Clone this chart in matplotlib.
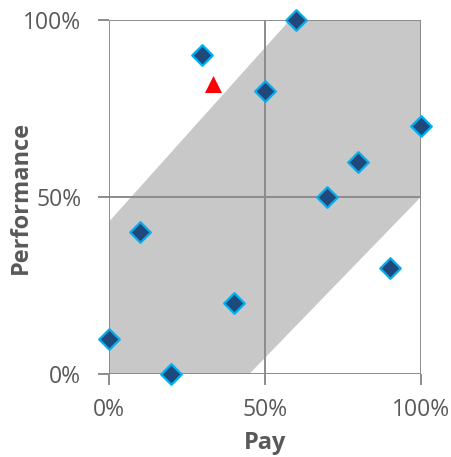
import matplotlib
matplotlib.use("Agg")
import matplotlib.pyplot as plt
from matplotlib.ticker import FuncFormatter

pay = [0.0, 0.1, 0.2, 0.3, 0.4, 0.5, 0.6, 0.7, 0.8, 0.9, 1.0]
performance = [0.1, 0.4, 0.0, 0.9, 0.2, 0.8, 1.0, 0.5, 0.6, 0.3, 0.7]
highlight_pay = [0.333]
highlight_perf = [0.82]
band_x = [0.0, 0.0, 0.58, 1.0, 1.0, 0.45]
band_y = [0.0, 0.43, 1.0, 1.0, 0.5, 0.0]
ticks = [0.0, 0.5, 1.0]

plt.rcParams['font.family'] = ['Open Sans', 'DejaVu Sans']

fig = plt.figure(figsize=(4.52, 4.57), dpi=100)
ax = fig.add_axes([0.241, 0.1816, 0.690, 0.7746])

ax.fill(band_x, band_y, color='#c8c8c8', lw=0, zorder=1)
for t in ticks:
    ax.axhline(t, color='#8c8c8c', lw=1.4, zorder=2)
    ax.axvline(t, color='#8c8c8c', lw=1.4, zorder=2)

ax.scatter(pay, performance, marker='D', s=110, facecolor='#1f497d',
           edgecolor='#00b0f0', linewidth=1.6, zorder=4, clip_on=False)
ax.scatter(highlight_pay, highlight_perf, marker='^', s=150, color='#ff0000',
           lw=0, zorder=4)

ax.set_xlim(0, 1)
ax.set_ylim(0, 1)
ax.set_xticks(ticks)
ax.set_yticks(ticks)
fmt = FuncFormatter(lambda v, p: f"{v*100:.0f}%")
ax.xaxis.set_major_formatter(fmt)
ax.yaxis.set_major_formatter(fmt)
for s in ax.spines.values():
    s.set_visible(False)
ax.tick_params(axis='both', direction='out', length=8, width=1.4,
               color='#8c8c8c', labelcolor='#595959', labelsize=16.5)
ax.tick_params(axis='x', pad=9)
ax.tick_params(axis='y', pad=12)

ax.set_xlabel('Pay', fontsize=17, fontweight='bold', color='#595959', labelpad=7)
ax.set_ylabel('Performance', fontsize=17, fontweight='bold', color='#595959')
ax.yaxis.set_label_coords(-0.244, 0.5)

fig.savefig('out.png', dpi=100)
